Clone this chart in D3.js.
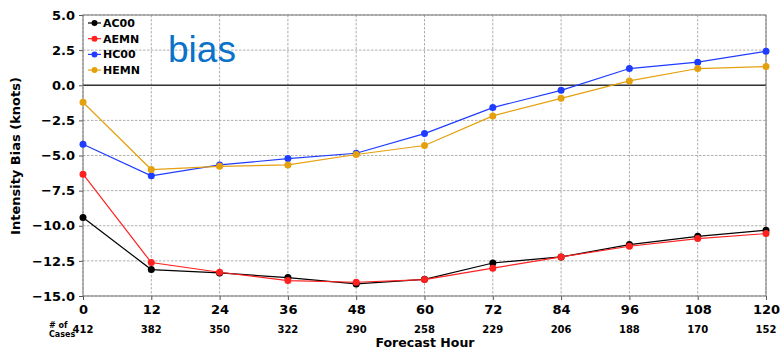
<!DOCTYPE html>
<html><head><meta charset="utf-8">
<script src="https://cdn.jsdelivr.net/npm/d3@7"></script>
<style>body{margin:0;background:#fff}</style>
</head><body><svg id="c" width="780" height="349"></svg>
<script>
const hours = [0,12,24,36,48,60,72,84,96,108,120];
const cases = [412,382,350,322,290,258,229,206,188,170,152];
const yTicks = [5,2.5,0,-2.5,-5,-7.5,-10,-12.5,-15];
const seriesNames = ["AC00","AEMN","HC00","HEMN"];
const seriesColors = ["#000000","#ff2020","#1f3cff","#e5a00d"];
const AC00 = [-9.42,-13.12,-13.36,-13.69,-14.14,-13.81,-12.65,-12.22,-11.34,-10.75,-10.32];
const AEMN = [-6.33,-12.62,-13.31,-13.9,-14.02,-13.83,-13.02,-12.22,-11.46,-10.91,-10.56];
const HC00 = [-4.2,-6.45,-5.67,-5.22,-4.84,-3.44,-1.59,-0.36,1.19,1.64,2.42];
const HEMN = [-1.21,-6.0,-5.77,-5.67,-4.93,-4.29,-2.18,-0.93,0.31,1.19,1.33];
const seriesData = [AC00,AEMN,HC00,HEMN];

const svg = d3.select("#c");
const L=83,R=766,T=15,B=296;
const x = d3.scaleLinear().domain([0,120]).range([L,R]);
const y = d3.scaleLinear().domain([-15,5]).range([B,T]);
const font = "DejaVu Sans, sans-serif";

// grid
const g = svg.append("g");
g.selectAll(".vg").data(hours).enter().append("line")
 .attr("x1",d=>x(d)).attr("x2",d=>x(d)).attr("y1",T).attr("y2",B)
 .attr("stroke","#999").attr("stroke-width",0.8).attr("stroke-dasharray","2.5,1.5");
g.selectAll(".hg").data(yTicks).enter().append("line")
 .attr("x1",L).attr("x2",R).attr("y1",d=>y(d)).attr("y2",d=>y(d))
 .attr("stroke","#999").attr("stroke-width",0.8).attr("stroke-dasharray","2.5,1.5");
// zero line
svg.append("line").attr("x1",L).attr("x2",R).attr("y1",y(0)).attr("y2",y(0))
 .attr("stroke","#333").attr("stroke-width",1.5);

// axes
const xAxis = svg.append("g").attr("transform",`translate(0,${B})`)
 .call(d3.axisBottom(x).tickValues(hours).tickSize(4).tickPadding(5));
const yAxis = svg.append("g").attr("transform",`translate(${L},0)`)
 .call(d3.axisLeft(y).tickValues(yTicks).tickSize(4).tickPadding(4)
   .tickFormat(d=>d3.format(".1f")(d).replace("-","\u2212")));
[xAxis,yAxis].forEach(a=>{
 a.select(".domain").remove();
 a.selectAll("line").attr("stroke","#555");
 a.selectAll("text").attr("font-family",font).attr("font-weight","bold").attr("font-size",13).attr("fill","#000");
});
// frame
svg.append("rect").attr("x",L).attr("y",T).attr("width",R-L).attr("height",B-T)
 .attr("fill","none").attr("stroke","#777").attr("stroke-width",1);

// series
const line = d3.line().x((d,i)=>x(hours[i])).y(d=>y(d));
seriesData.forEach((s,k)=>{
 svg.append("path").datum(s).attr("d",line).attr("fill","none")
  .attr("stroke",seriesColors[k]).attr("stroke-width",1.2);
 svg.selectAll(".m"+k).data(s).enter().append("circle")
  .attr("cx",(d,i)=>x(hours[i])).attr("cy",d=>y(d)).attr("r",3.5)
  .attr("fill",seriesColors[k]);
});

// legend
seriesNames.forEach((n,k)=>{
 const ly = 23 + k*15.7;
 svg.append("line").attr("x1",88).attr("x2",101).attr("y1",ly).attr("y2",ly)
  .attr("stroke",seriesColors[k]).attr("stroke-width",1.2);
 svg.append("circle").attr("cx",94.5).attr("cy",ly).attr("r",3).attr("fill",seriesColors[k]);
 svg.append("text").attr("x",103).attr("y",ly+4).text(n)
  .attr("font-family",font).attr("font-weight","bold").attr("font-size",11);
});

// bias label
svg.append("text").attr("x",168).attr("y",62).text("bias")
 .attr("font-family","Liberation Sans, Arial, sans-serif").attr("font-size",37).attr("fill","#0a72c8");

// cases
svg.selectAll(".cs").data(cases).enter().append("text")
 .attr("x",(d,i)=>x(hours[i])).attr("y",333).attr("text-anchor","middle").text(d=>d)
 .attr("font-family",font).attr("font-weight","bold").attr("font-size",10);
svg.append("text").attr("x",49).attr("y",328).text("# of")
 .attr("font-family",font).attr("font-weight","bold").attr("font-size",8);
svg.append("text").attr("x",49).attr("y",337).text("Cases")
 .attr("font-family",font).attr("font-weight","bold").attr("font-size",8);

// axis titles
svg.append("text").attr("x",425).attr("y",347).attr("text-anchor","middle").text("Forecast Hour")
 .attr("font-family",font).attr("font-weight","bold").attr("font-size",12.5);
svg.append("text").attr("transform","translate(20,156) rotate(-90)").attr("text-anchor","middle")
 .text("Intensity Bias (knots)").attr("font-family",font).attr("font-weight","bold").attr("font-size",13);
</script></body></html>
